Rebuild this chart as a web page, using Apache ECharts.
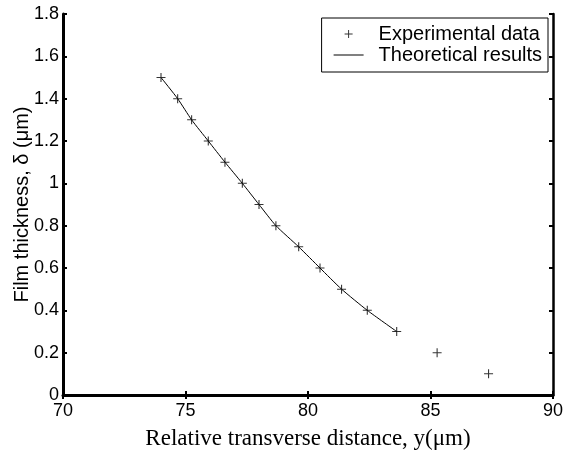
<!DOCTYPE html>
<html>
<head>
<meta charset="utf-8">
<script src="https://cdn.jsdelivr.net/npm/echarts@6/dist/echarts.min.js"></script>
<style>
  html, body { margin: 0; padding: 0; background: #fff; }
  #chart { width: 571px; height: 451px; }
</style>
</head>
<body>
<div id="chart"></div>
<script>
// Relative transverse distance y (um) vs film thickness (um)
const expX = [74.0, 74.68, 75.25, 75.93, 76.61, 77.32, 78.0, 78.69, 79.62, 80.49, 81.37, 82.42, 83.62, 85.27, 87.37]
const expY = [1.5, 1.4, 1.3, 1.2, 1.1, 1.0, 0.9, 0.8, 0.7, 0.6, 0.5, 0.4, 0.3, 0.2, 0.1]
const theoX = [74.0, 74.68, 75.25, 75.93, 76.61, 77.32, 78.0, 78.69, 79.62, 80.49, 81.37, 82.42, 83.62]
const theoY = [1.5, 1.4, 1.3, 1.2, 1.1, 1.0, 0.9, 0.8, 0.7, 0.6, 0.5, 0.4, 0.3]

const plusPath = 'path://M0,4.4H10V5.6H0Z M4.4,0H5.6V10H4.4Z'
const linePath = 'path://M0,0H30V1H0Z'
const sans = 'Liberation Sans'
const serif = 'Liberation Serif'

const pair = (xs, ys) => xs.map((x, i) => [x, ys[i]])

const myChart = echarts.init(document.getElementById('chart'), null, { renderer: 'canvas' })

myChart.setOption({
    animation: false,
    backgroundColor: '#fff',
    grid: { left: 63, right: 18, top: 14, bottom: 56, containLabel: false, outerBoundsMode: 'none' },
    legend: {
        orient: 'vertical',
        right: 23,
        top: 18,
        backgroundColor: '#fff',
        borderColor: '#000',
        borderWidth: 1,
        borderRadius: 0,
        padding: [6, 6, 7, 12],
        itemGap: 1,
        itemWidth: 30,
        itemHeight: 8,
        textStyle: { fontFamily: sans, fontSize: 20, color: '#000', padding: [0, 0, 0, 10] },
        data: [
            { name: 'Experimental data', icon: plusPath },
            { name: 'Theoretical results', icon: linePath }
        ]
    },
    xAxis: [
        {
            type: 'value',
            min: 70, max: 90, interval: 5,
            name: 'Relative transverse distance, y(\u03bcm)',
            nameLocation: 'middle',
            nameGap: 32,
            nameMoveOverlap: false,
            nameTextStyle: { fontFamily: serif, fontSize: 23, color: '#000' },
            axisLine: { lineStyle: { color: '#000', width: 3 } },
            axisTick: { inside: true, length: 4, lineStyle: { color: '#000', width: 2 } },
            axisLabel: { fontFamily: sans, fontSize: 18, color: '#000', margin: 7 },
            splitLine: { show: false }
        },
        {
            type: 'value', position: 'top',
            min: 70, max: 90, interval: 5,
            axisLine: { lineStyle: { color: '#000', width: 2 } },
            axisTick: { inside: true, length: 4, lineStyle: { color: '#000', width: 2 } },
            axisLabel: { show: false },
            splitLine: { show: false }
        }
    ],
    yAxis: [
        {
            type: 'value',
            min: 0, max: 1.8, interval: 0.2,
            name: 'Film thickness, \u03b4 (\u03bcm)',
            nameLocation: 'middle',
            nameGap: 31,
            nameMoveOverlap: false,
            nameTextStyle: { fontFamily: sans, fontSize: 20, color: '#000' },
            axisLine: { lineStyle: { color: '#000', width: 3 } },
            axisTick: { inside: true, length: 4, lineStyle: { color: '#000', width: 2 } },
            axisLabel: { fontFamily: sans, fontSize: 18, color: '#000', margin: 4 },
            splitLine: { show: false }
        },
        {
            type: 'value', position: 'right',
            min: 0, max: 1.8, interval: 0.2,
            axisLine: { lineStyle: { color: '#000', width: 2.5 } },
            axisTick: { inside: true, length: 4, lineStyle: { color: '#000', width: 2 } },
            axisLabel: { show: false },
            splitLine: { show: false }
        }
    ],
    series: [
        {
            name: 'Experimental data',
            type: 'scatter',
            symbol: plusPath,
            symbolSize: 9,
            symbolKeepAspect: true,
            itemStyle: { color: '#000' },
            data: pair(expX, expY),
            z: 3
        },
        {
            name: 'Theoretical results',
            type: 'line',
            symbol: 'none',
            symbolKeepAspect: true,
            smooth: 0.2,
            lineStyle: { color: '#000', width: 1 },
            itemStyle: { color: '#000' },
            data: pair(theoX, theoY),
            z: 2
        }
    ]
})
</script>
</body>
</html>
